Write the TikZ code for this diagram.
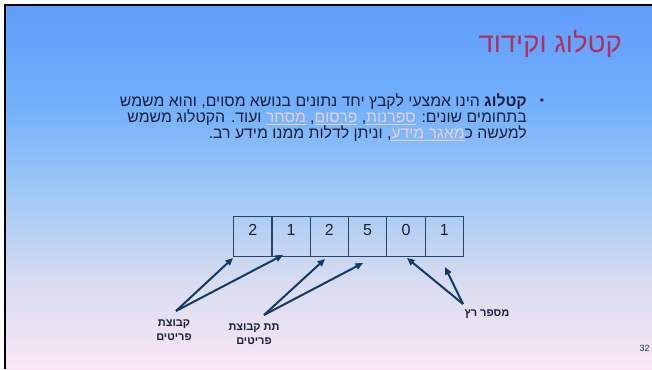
\documentclass[tikz,border=0pt]{standalone}
\usepackage{fontspec}
\setmainfont{Liberation Sans}
\newfontfamily\hebfont[Script=Hebrew]{Liberation Sans}
\TeXXeTstate=1
\usetikzlibrary{arrows.meta,calc}

\definecolor{slidetop}{HTML}{5F9DFC}
\definecolor{slideupper}{HTML}{72B0FC}
\definecolor{slidemid}{HTML}{A0C8F6}
\definecolor{slidelow}{HTML}{D8DCF0}
\definecolor{slidebot}{HTML}{FAE6F6}
\definecolor{titlecol}{HTML}{B2305E}
\definecolor{bodytext}{HTML}{1A1F3A}
\definecolor{linkcol}{HTML}{E6D0F2}
\definecolor{navy}{HTML}{123A68}
\definecolor{cellline}{HTML}{24466E}

% vertical background; the path is mapped onto 25bp..75bp
\pgfdeclareverticalshading{slidebg}{100bp}{%
  color(0bp)=(slidebot); color(25bp)=(slidebot); color(37bp)=(slidelow);
  color(49bp)=(slidemid); color(61.5bp)=(slideupper);
  color(75bp)=(slidetop); color(100bp)=(slidetop)}

% a right-to-left run set as one box
\newcommand{\rtlrun}[1]{\hbox{\beginR#1\endR}}
% underlined hyperlink word
\newcommand{\hlink}[1]{\hbox{\begingroup\color{linkcol}\underline{\rtlrun{#1}}\endgroup}}

\tikzset{
  cellbox/.style={draw=cellline, line width=1.2pt, minimum width=38.3pt,
    minimum height=40pt, inner sep=0pt, anchor=north west},
  digit/.style={text=bodytext, font=\fontsize{16}{16}\selectfont, inner sep=0pt},
  pointer/.style={draw=navy, line width=2pt,
    -{Triangle[length=7.5pt,width=6.5pt]}},
  tag/.style={font=\hebfont\bfseries\fontsize{11}{14}\selectfont,
    text=bodytext, align=center, inner sep=0pt},
  bodyline/.style={font=\hebfont\fontsize{15.8}{15.8}\selectfont, text=bodytext,
    anchor=east, inner sep=0pt}
}

\begin{document}
\begin{tikzpicture}[x=1pt,y=-1pt]
  \useasboundingbox (0,0) rectangle (652,369);
  \fill[white] (0,0) rectangle (652,369);
  % slide background
  \shade[shading=slidebg] (5,5) rectangle (652,369);
  \draw[black, line width=2.5pt] (5,369) -- (5,5) -- (652,5);

  % title
  \node[font=\hebfont\fontsize{27.5}{27.5}\selectfont, text=titlecol,
        anchor=east, inner sep=0pt] (title) at (622,44)
        {\beginR קטלוג וקידוד\endR};

  % bullet paragraph (runs are laid out left to right on the page)
  \node[font=\fontsize{12}{12}\selectfont, text=bodytext, inner sep=0pt]
        (bullet) at (542,102) {\textbullet};
  \node[bodyline] (line1) at (527,102)
        {\beginR\textbf{קטלוג} הינו אמצעי לקבץ יחד נתונים בנושא מסוים, והוא משמש\endR};
  \node[bodyline] (line2) at (527,118)
        {\rtlrun{ ועוד. הקטלוג משמש}\hlink{מסחר}\rtlrun{, }\hlink{פרסום}\rtlrun{, }\hlink{ספרנות}\rtlrun{בתחומים שונים: }};
  \node[bodyline] (line3) at (527,133.5)
        {\rtlrun{, וניתן לדלות ממנו מידע רב.}\hlink{מאגר מידע}\rtlrun{למעשה כ}};

  % code cells
  \node[cellbox] (c1) at (233.0,216) {}; \node[digit] at ($(c1.center)+(0,-7)$) {2};
  \node[cellbox] (c2) at (271.3,216) {}; \node[digit] at ($(c2.center)+(0,-7)$) {1};
  \node[cellbox] (c3) at (309.6,216) {}; \node[digit] at ($(c3.center)+(0,-7)$) {2};
  \node[cellbox] (c4) at (347.9,216) {}; \node[digit] at ($(c4.center)+(0,-7)$) {5};
  \node[cellbox] (c5) at (386.2,216) {}; \node[digit] at ($(c5.center)+(0,-7)$) {0};
  \node[cellbox] (c6) at (424.5,216) {}; \node[digit] at ($(c6.center)+(0,-7)$) {1};

  % labels
  \node[tag] (grp) at (174,330) {\beginR קבוצת\endR\\\beginR פריטים\endR};
  \node[tag] (sub) at (254,334) {\beginR תת קבוצת\endR\\\beginR פריטים\endR};
  \node[tag] (run) at (487,314) {\beginR מספר רץ\endR};

  % arrow tails and tips
  \coordinate (grpT) at (176,311);
  \coordinate (subT) at (264,315);
  \coordinate (runT) at (463,304);
  \coordinate (t1) at (233,258);
  \coordinate (t2) at (283,255);
  \coordinate (t3) at (325,259);
  \coordinate (t4) at (363,263);
  \coordinate (t5) at (407,258);
  \coordinate (t6) at (445,267);

  \draw[pointer] (grpT) -- (t1);
  \draw[pointer] (grpT) -- (t2);
  \draw[pointer] (subT) -- (t3);
  \draw[pointer] (subT) -- (t4);
  \draw[pointer] (runT) -- (t5);
  \draw[pointer] (runT) -- (t6);

  % page number
  \node[font=\fontsize{9}{9}\selectfont, text=navy, inner sep=0pt] (pg) at (644.5,348) {32};
\end{tikzpicture}
\end{document}
